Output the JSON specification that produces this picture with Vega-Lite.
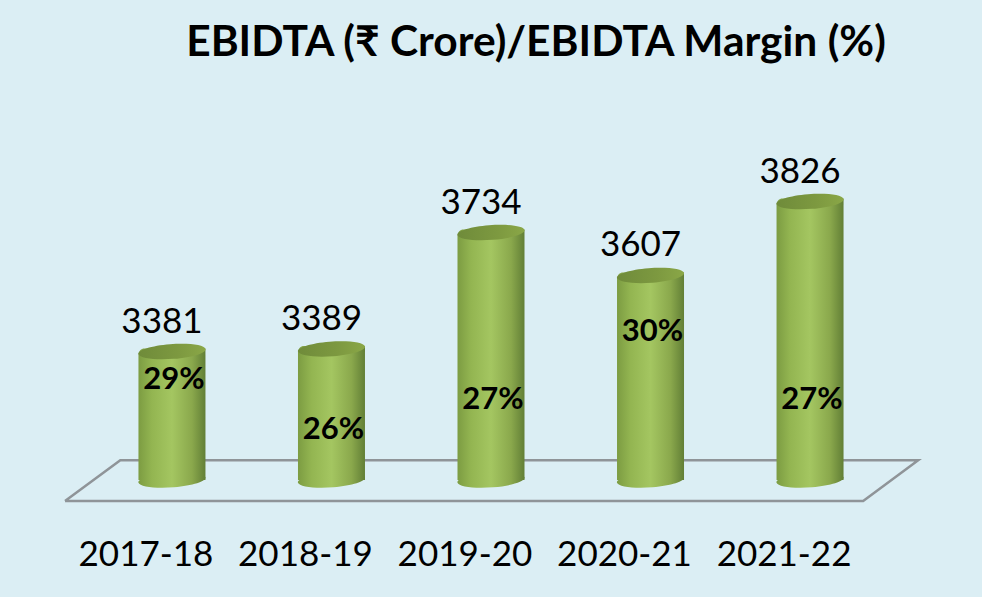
{
  "$schema": "https://vega.github.io/schema/vega-lite/v6.json",
  "width": 982,
  "height": 473,
  "autosize": "none",
  "padding": {"left": 0, "right": 0, "top": 62, "bottom": 62},
  "background": "#dbeef4",
  "config": {"view": {"stroke": null}},
  "title": {
    "text": "EBIDTA (₹ Crore)/EBIDTA Margin (%)",
    "font": "Lato",
    "fontSize": 42.5,
    "fontWeight": "bold",
    "color": "#000000",
    "anchor": "middle",
    "frame": "group",
    "dx": 45,
    "offset": -36,
    "baseline": "alphabetic"
  },
  "datasets": {
    "ebidta": [
      {"year": "2017-18", "ebidta": 3381, "margin": 0.29},
      {"year": "2018-19", "ebidta": 3389, "margin": 0.26},
      {"year": "2019-20", "ebidta": 3734, "margin": 0.27},
      {"year": "2020-21", "ebidta": 3607, "margin": 0.30},
      {"year": "2021-22", "ebidta": 3826, "margin": 0.27}
    ],
    "floor": [
      {"corner": 0, "across": 6.62, "level": 2938},
      {"corner": 1, "across": 12.25, "level": 3059},
      {"corner": 2, "across": 93.5, "level": 3059},
      {"corner": 3, "across": 87.9, "level": 2938},
      {"corner": 4, "across": 6.62, "level": 2938}
    ]
  },
  "layer": [
    {
      "data": {"name": "floor"},
      "mark": {"type": "line", "color": "#8f9498", "strokeWidth": 2.5, "strokeJoin": "miter"},
      "encoding": {
        "x": {"field": "across", "type": "quantitative", "scale": {"domain": [0, 100]}, "axis": null},
        "y": {"field": "level", "type": "quantitative", "scale": {"domain": [2837, 4240], "nice": false, "zero": false}, "axis": null},
        "order": {"field": "corner", "type": "ordinal"}
      }
    },
    {
      "data": {"name": "ebidta"},
      "encoding": {
        "x": {
          "field": "year",
          "type": "nominal",
          "scale": {"type": "band", "paddingInner": 0.58, "paddingOuter": 0.868},
          "axis": {
            "title": null,
            "domain": false,
            "ticks": false,
            "labelAngle": 0,
            "labelFont": "Lato",
            "labelFontSize": 35,
            "labelColor": "#000000",
            "labelOffset": -26,
            "labelPadding": 2,
            "labelOverlap": false,
            "grid": false
          }
        },
        "y": {"field": "ebidta", "type": "quantitative", "scale": {"domain": [2837, 4240], "nice": false, "zero": false}, "axis": null}
      },
      "layer": [
        {
          "mark": {
            "type": "point",
            "filled": true,
            "opacity": 1,
            "size": 4489,
            "shape": "M-1,0.08 A1,0.22 -4 1,1 1,-0.08 A1,0.22 -4 1,1 -1,0.08 Z",
            "color": {"gradient": "linear", "x1": 0, "x2": 1, "y1": 0, "y2": 0, "stops": [
              {"offset": 0, "color": "#7c9c42"},
              {"offset": 0.2, "color": "#93b551"},
              {"offset": 0.5, "color": "#a4c661"},
              {"offset": 0.8, "color": "#8aa84c"},
              {"offset": 1, "color": "#627f36"}
            ]}
          },
          "encoding": {"y": {"datum": 3000, "type": "quantitative"}}
        },
        {
          "mark": {
            "type": "bar",
            "yOffset": -3,
            "cornerRadiusTopLeft": 6,
            "color": {"gradient": "linear", "x1": 0, "x2": 1, "y1": 0, "y2": 0, "stops": [
              {"offset": 0, "color": "#7c9c42"},
              {"offset": 0.2, "color": "#93b551"},
              {"offset": 0.5, "color": "#a4c661"},
              {"offset": 0.8, "color": "#8aa84c"},
              {"offset": 1, "color": "#627f36"}
            ]}
          },
          "encoding": {"y2": {"datum": 3000}}
        },
        {
          "mark": {
            "type": "point",
            "filled": true,
            "opacity": 1,
            "size": 4489,
            "shape": "M-1,0.08 A1,0.22 -4 1,1 1,-0.08 A1,0.22 -4 1,1 -1,0.08 Z",
            "color": {"gradient": "linear", "x1": 0, "x2": 1, "y1": 0, "y2": 0, "stops": [
              {"offset": 0, "color": "#6f8b3a"},
              {"offset": 0.6, "color": "#7d9940"},
              {"offset": 1, "color": "#8aa747"}
            ]}
          }
        },
        {
          "mark": {"type": "text", "font": "Lato", "fontSize": 35, "color": "#000000", "dx": -10, "dy": -30, "baseline": "middle"},
          "encoding": {"text": {"field": "ebidta", "type": "quantitative", "format": "d"}}
        }
      ]
    },
    {
      "data": {"name": "ebidta"},
      "mark": {"type": "text", "font": "Lato", "fontSize": 31, "fontWeight": "bold", "color": "#000000", "dx": 2, "baseline": "middle"},
      "encoding": {
        "x": {"field": "year", "type": "nominal", "scale": {"type": "band", "paddingInner": 0.58, "paddingOuter": 0.868}, "axis": null},
        "y": {"field": "margin", "type": "quantitative", "scale": {"domain": [0.26, 0.27, 0.29, 0.30], "range": [368, 338, 318, 270]}, "axis": null},
        "text": {"field": "margin", "type": "quantitative", "format": ".0%"}
      }
    }
  ],
  "resolve": {"scale": {"x": "independent", "y": "independent"}}
}
